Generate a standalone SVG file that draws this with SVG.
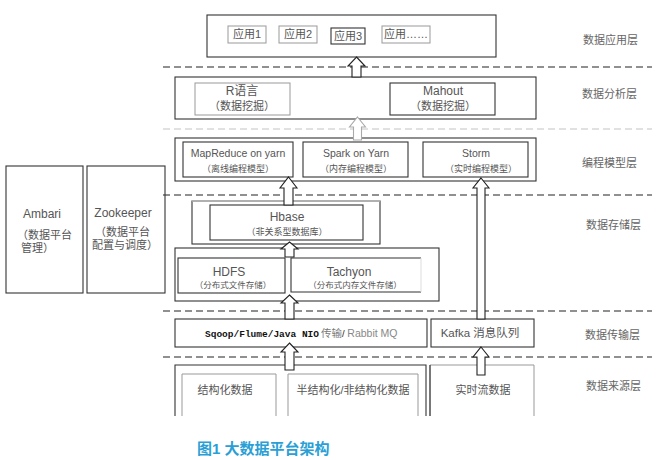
<svg xmlns="http://www.w3.org/2000/svg" width="660" height="460" viewBox="0 0 660 460">
<style>
text{font-family:"Liberation Sans","Noto Sans CJK SC",sans-serif;fill:#555}
.box{fill:none;stroke:#333;stroke-width:1.1}
.lbox{fill:none;stroke:#999;stroke-width:1}
.dash{stroke:#222;stroke-width:1.1;stroke-dasharray:7 4;fill:none}
.ldash{stroke:#c4c4c4;stroke-width:1.1;stroke-dasharray:7 4;fill:none}
.arr{fill:#fff;stroke:#222;stroke-width:1.1}
.garr{fill:#fff;stroke:#aaa;stroke-width:1.1}
.c{text-anchor:middle}
.layer{font-size:11px;fill:#666}
.t12{font-size:12px}
.t11{font-size:11px}
.t10{font-size:10.5px}
.t9{font-size:9px}
.t85{font-size:8.5px}
</style>
<rect width="660" height="460" fill="#fff"/>

<g id="layers">
<line class="dash" x1="163" y1="67" x2="652" y2="67"/>
<line class="ldash" x1="163" y1="129" x2="652" y2="129"/>
<line class="dash" x1="163" y1="195" x2="652" y2="195"/>
<line class="dash" x1="163" y1="311" x2="652" y2="311"/>
<line class="dash" x1="163" y1="357" x2="652" y2="357"/>
<text class="layer" x="583" y="44">数据应用层</text>
<text class="layer" x="582" y="98">数据分析层</text>
<text class="layer" x="582" y="167">编程模型层</text>
<text class="layer" x="586" y="229">数据存储层</text>
<text class="layer" x="585" y="339">数据传输层</text>
<text class="layer" x="586" y="390">数据来源层</text>
</g>

<g id="apps">
<rect class="box" x="207" y="15" width="289" height="42"/>
<rect class="lbox" x="228" y="26" width="38" height="17"/>
<text class="t11 c" x="247" y="38">应用1</text>
<rect class="lbox" x="279" y="26" width="38" height="17"/>
<text class="t11 c" x="298" y="38">应用2</text>
<rect class="box" x="331" y="28" width="34" height="16"/>
<text class="t11 c" x="348" y="40">应用3</text>
<rect class="lbox" x="382" y="26" width="48" height="17"/>
<text class="t11 c" x="406" y="38">应用……</text>
</g>

<g id="analysis">
<rect class="box" x="175" y="77" width="361" height="42"/>
<rect class="lbox" x="195" y="83" width="95" height="32"/>
<text class="t12 c" x="242" y="95">R语言</text>
<text class="t11 c" x="242" y="110">（数据挖掘）</text>
<rect class="box" x="390" y="83" width="105" height="32"/>
<text class="t12 c" x="443" y="95">Mahout</text>
<text class="t11 c" x="443" y="110">（数据挖掘）</text>
</g>

<g id="programming">
<rect class="box" x="175" y="138" width="361" height="43"/>
<rect class="box" x="183" y="142" width="110" height="35"/>
<text class="t10 c" x="238" y="157">MapReduce on yarn</text>
<text class="t9 c" x="238" y="172">（离线编程模型）</text>
<rect class="box" x="303" y="142" width="105" height="35"/>
<text class="t10 c" x="356" y="157">Spark on Yarn</text>
<text class="t9 c" x="356" y="172">（内存编程模型）</text>
<rect class="box" x="423" y="142" width="105" height="35"/>
<text class="t10 c" x="476" y="157">Storm</text>
<text class="t9 c" x="481" y="172">（实时编程模型）</text>
</g>

<g id="hbase">
<rect class="box" x="192" y="201" width="188" height="43"/>
<line x1="192" y1="201" x2="380" y2="201" stroke="#bbb" stroke-width="1.4"/>
<rect class="box" x="210" y="205" width="153" height="35"/>
<text class="t12 c" x="287" y="221">Hbase</text>
<text class="t9 c" x="287" y="235">（非关系型数据库）</text>
</g>

<g id="storage">
<rect class="box" x="175" y="248" width="264" height="53"/>
<rect class="box" x="178" y="258" width="107" height="35"/>
<text class="t12 c" x="229" y="276">HDFS</text>
<text class="t85 c" x="233" y="288">（分布式文件存储）</text>
<path d="M421 258 H291 V292 H421" class="box"/>
<line x1="421" y1="258" x2="421" y2="292" stroke="#ddd"/>
<text class="t12 c" x="349" y="276">Tachyon</text>
<text class="t85 c" x="355" y="288">（分布式内存文件存储）</text>
</g>

<g id="transport">
<rect class="box" x="175" y="319" width="252" height="28"/>
<text x="205" y="337" style="font-size:9.5px"><tspan style="font-family:'Liberation Mono',monospace;font-weight:bold;fill:#111">Sqoop/Flume/Java NIO</tspan><tspan dx="2" style="font-size:10.5px;fill:#777">传输</tspan><tspan style="fill:#222">/ </tspan><tspan style="font-size:10.5px;fill:#888">Rabbit MQ</tspan></text>
<rect class="box" x="431" y="319" width="103" height="28"/>
<text class="c" x="480" y="337" style="font-size:11.5px">Kafka 消息队列</text>
</g>

<g id="sources">
<path class="box" d="M175 416 V365 H426 V416"/>
<path class="lbox" d="M182 416 V374 H276 V416"/>
<path class="lbox" d="M288 416 V374 H418 V416"/>
<text class="t11 c" x="225" y="394">结构化数据</text>
<text class="t11 c" x="353" y="394">半结构化/非结构化数据</text>
<path class="lbox" d="M430 416 V365 H534 V416"/>
<line x1="430" y1="365" x2="430" y2="416" stroke="#333" stroke-width="1.1"/>
<text class="t11 c" x="483" y="394">实时流数据</text>
</g>

<g id="ambari">
<rect class="box" x="6" y="166" width="77" height="127"/>
<text class="t12 c" x="42" y="218">Ambari</text>
<text class="t11" x="17" y="239">（数据平台</text>
<text class="t11" x="21" y="252">管理）</text>
</g>

<g id="zookeeper">
<rect class="box" x="87" y="166" width="78" height="127"/>
<text class="t12 c" x="123" y="217">Zookeeper</text>
<text class="t11" x="95" y="236">（数据平台</text>
<text class="t11" x="92" y="249">配置与调度）</text>
</g>

<g id="connectors">
<path class="arr" d="M356.5 57 L365 66 L361 66 L361 77 L352 77 L352 66 L348 66 Z"/>
<path class="garr" d="M357.5 117 L365.5 127 L361.5 127 L361.5 140 L353.5 140 L353.5 127 L349.5 127 Z"/>
<path class="arr" d="M288.5 177 L297 188 L293 188 L293 205 L284 205 L284 188 L280 188 Z"/>
<path class="arr" d="M289.5 242 L298 249 L294 249 L294 257 L285 257 L285 249 L281 249 Z"/>
<path class="arr" d="M289.5 295 L298 303 L294 303 L294 319 L285 319 L285 303 L281 303 Z"/>
<path class="arr" d="M289.5 343 L298 352 L294 352 L294 370 L285 370 L285 352 L281 352 Z"/>
<path class="arr" d="M481 178 L489 188 L485 188 L485 319 L477 319 L477 188 L473 188 Z"/>
<path class="arr" d="M481 347 L489 357 L485 357 L485 375 L477 375 L477 357 L473 357 Z"/>
</g>

<text x="197" y="454" style="font-size:15px;font-weight:bold;fill:#2a9fd6">图1 大数据平台架构</text>
</svg>
